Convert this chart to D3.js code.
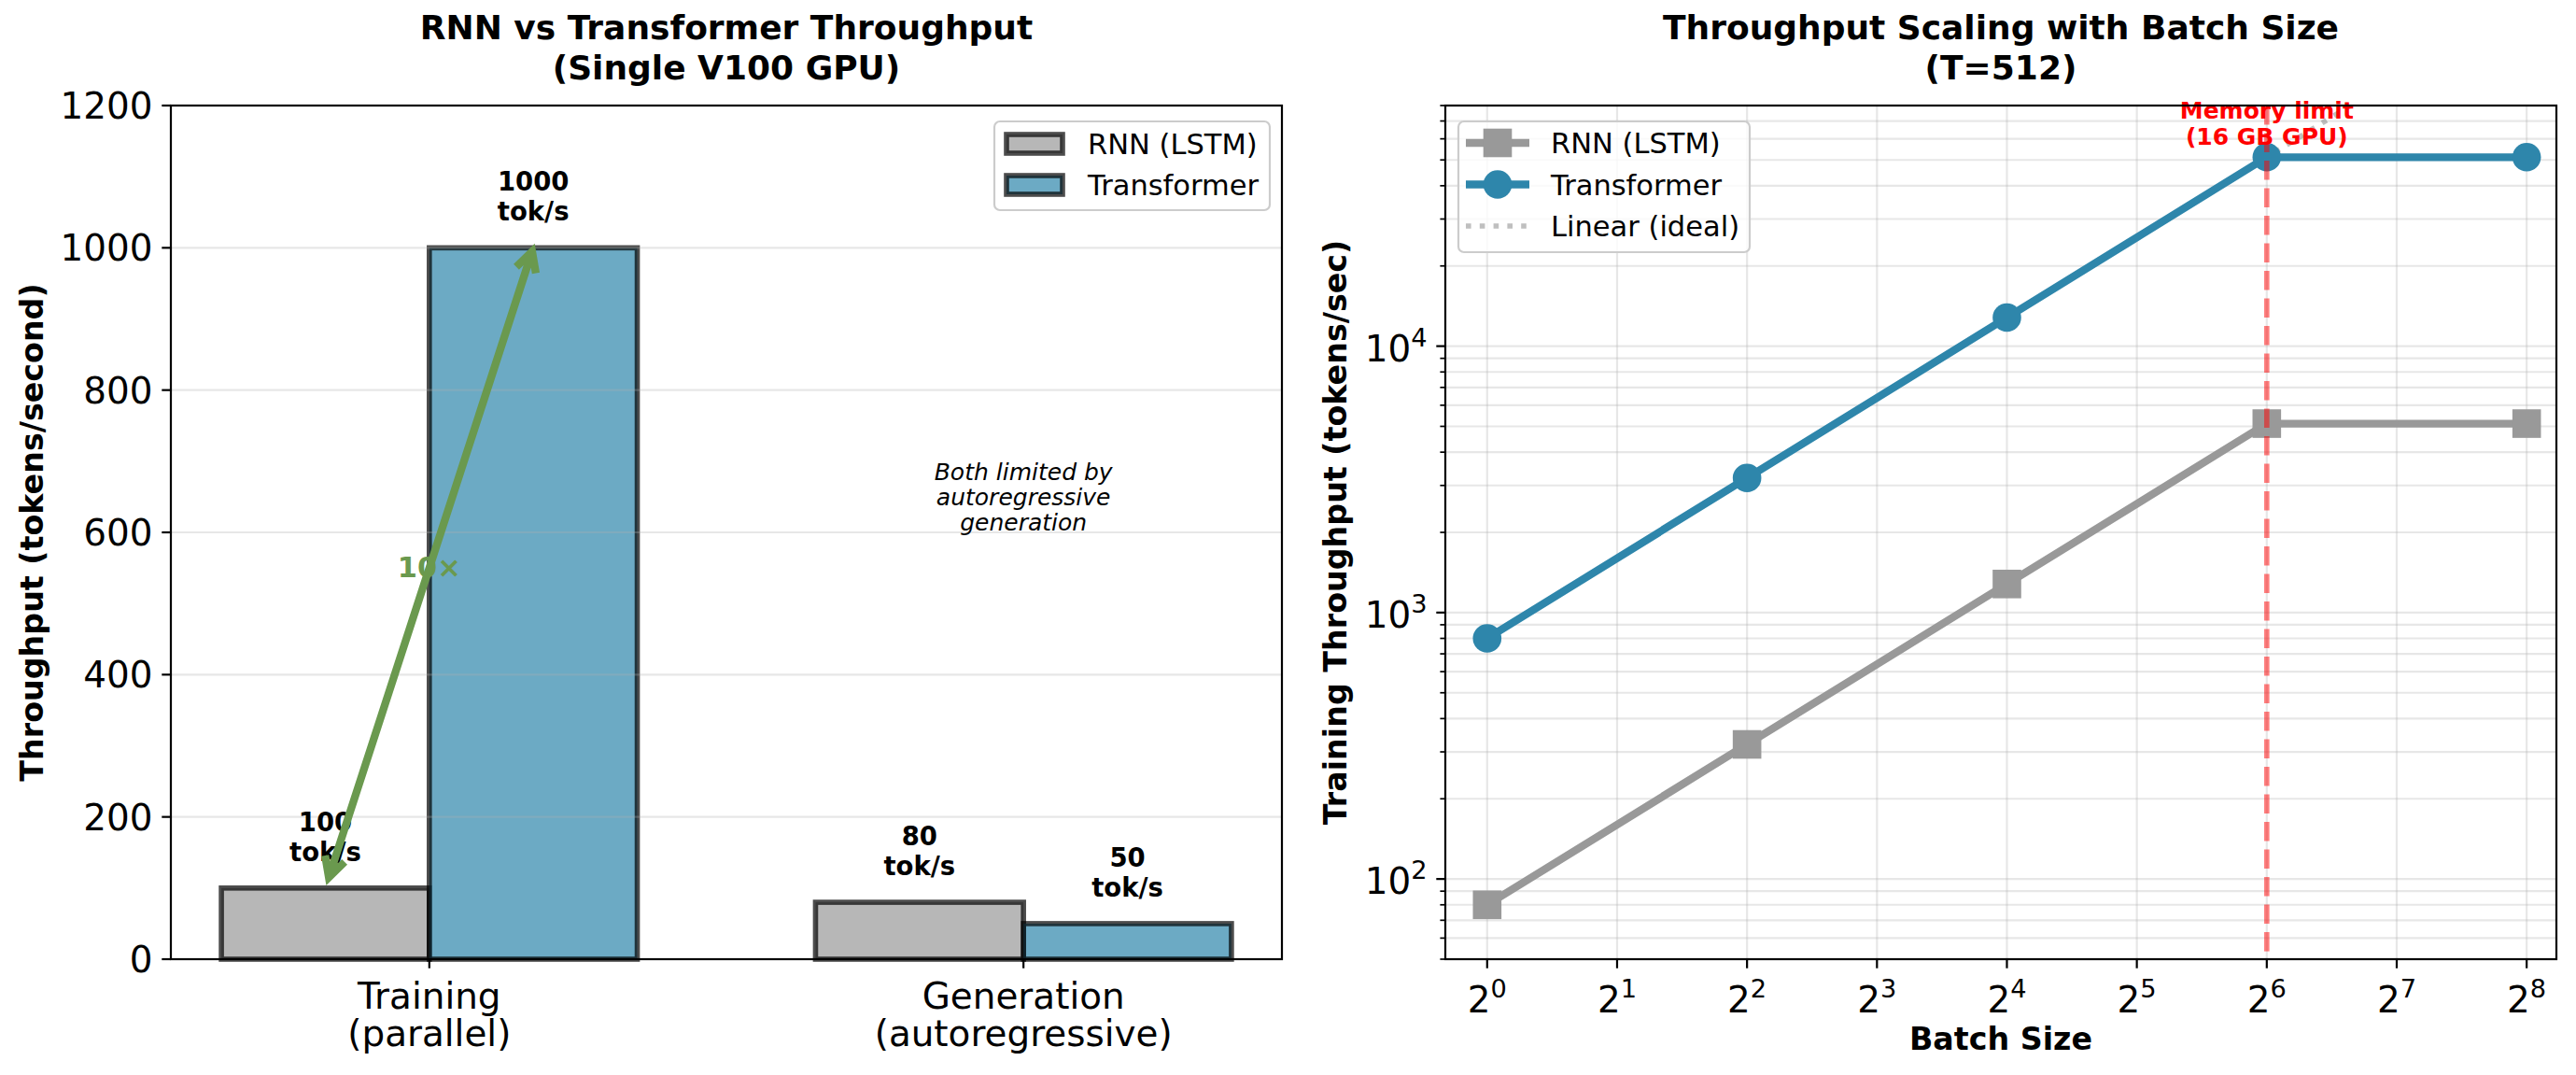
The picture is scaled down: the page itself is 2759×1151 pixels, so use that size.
<!DOCTYPE html>
<html>
<head>
<meta charset="utf-8">
<script src="https://cdn.jsdelivr.net/npm/d3@7"></script>
<style>
  body { margin: 0; background: #fff; }
  text { font-family: "DejaVu Sans", sans-serif; }
</style>
</head>
<body>
<div class="canvas"></div>
<script>
// ---- data ----
const categories = [['Training', '(parallel)'], ['Generation', '(autoregressive)']];
const rnnThroughput = [100, 80];
const transformerThroughput = [1000, 50];
const throughputTicks = [0, 200, 400, 600, 800, 1000, 1200];

const batchSizes = [1, 4, 16, 64, 256];
const rnnScaling = [80, 320, 1280, 5120, 5120];
const transformerScaling = [800, 3200, 12800, 51200, 51200];
const idealScaling = [800, 3200, 12800, 51200, 204800];
const batchTickExps = [0, 1, 2, 3, 4, 5, 6, 7, 8];
const scalingTickExps = [2, 3, 4];
const memoryLimitBatch = 64;

const seriesNames = ['RNN (LSTM)', 'Transformer', 'Linear (ideal)'];

// ---- layout ----
const dims = { width: 2759, height: 1151, top: 113, bottom: 1027 };
const leftAx = { x0: 183, x1: 1373 };
const rightAx = { x0: 1548, x1: 2738 };
const colour = { rnn: '#999999', transformer: '#2E86AB', arrow: '#6A994E', grid: '#b0b0b0' };
const fs = { title: 36, label: 33.3, tick: 38.9, legend: 30.5, value: 27.5, note: 25 };

const svg = d3.select('.canvas').append('svg')
    .attr('width', dims.width)
    .attr('height', dims.height);

const multiText = (g, x, y, lines, size, lh, opts = {}) => {
    const t = g.append('text')
        .attr('x', x).attr('y', y)
        .attr('text-anchor', opts.anchor || 'middle')
        .attr('font-size', size)
        .attr('font-weight', opts.weight || 'normal')
        .attr('font-style', opts.style || 'normal')
        .attr('fill', opts.fill || '#000');
    lines.forEach((l, i) => t.append('tspan').attr('x', x).attr('dy', i === 0 ? 0 : lh).text(l));
    return t;
};

const powerLabel = (g, x, y, base, exp, anchor) => {
    const t = g.append('text')
        .attr('x', x).attr('y', y)
        .attr('text-anchor', anchor)
        .attr('font-size', fs.tick);
    t.append('tspan').text(base);
    t.append('tspan').attr('dy', -16).attr('font-size', fs.tick * 0.7).text(exp);
    return t;
};

// ================= LEFT: bar chart =================
const xL = d3.scaleLinear().domain([-0.435, 1.435]).range([leftAx.x0, leftAx.x1]);
const yL = d3.scaleLinear().domain([0, 1200]).range([dims.bottom, dims.top]);
const barW = 0.35;

const left = svg.append('g');

const barData = [];
categories.forEach((c, i) => {
    barData.push({ x: i - barW, v: rnnThroughput[i], c: colour.rnn });
    barData.push({ x: i, v: transformerThroughput[i], c: colour.transformer });
});

left.selectAll('.bar').data(barData).enter()
    .append('rect')
    .attr('class', 'bar')
    .attr('x', d => xL(d.x))
    .attr('y', d => yL(d.v))
    .attr('width', d => xL(d.x + barW) - xL(d.x))
    .attr('height', d => yL(0) - yL(d.v))
    .attr('fill', d => d.c)
    .attr('fill-opacity', 0.7)
    .attr('stroke', '#000')
    .attr('stroke-opacity', 0.7)
    .attr('stroke-width', 5.6);

// grid (drawn above bars like matplotlib)
left.selectAll('.gridy').data(throughputTicks.slice(1, -1)).enter()
    .append('line')
    .attr('x1', leftAx.x0).attr('x2', leftAx.x1)
    .attr('y1', d => yL(d)).attr('y2', d => yL(d))
    .attr('stroke', colour.grid).attr('stroke-opacity', 0.3).attr('stroke-width', 2.2);

// value labels
barData.forEach(d => {
    multiText(left, xL(d.x + barW / 2), yL(d.v + 30) - 38, [String(d.v), 'tok/s'], fs.value, 32, { weight: 'bold' });
});

// 10x annotation
left.append('text')
    .attr('x', xL(0)).attr('y', yL(550) + 10)
    .attr('text-anchor', 'middle')
    .attr('font-size', 30.5).attr('font-weight', 'bold')
    .attr('fill', colour.arrow)
    .text(`${transformerThroughput[0] / rnnThroughput[0]}×`);

const a1 = [xL(-barW / 2), yL(rnnThroughput[0])];
const a2 = [xL(barW / 2), yL(transformerThroughput[0])];
const shrink = (p, q, s) => {
    const len = Math.hypot(q[0] - p[0], q[1] - p[1]);
    return [p[0] + (q[0] - p[0]) * s / len, p[1] + (q[1] - p[1]) * s / len];
};
const p1 = shrink(a1, a2, 12);
const p2 = shrink(a2, a1, 4);
const arrowHead = (tip, from) => {
    const dx = from[0] - tip[0], dy = from[1] - tip[1];
    const len = Math.hypot(dx, dy), ux = dx / len, uy = dy / len;
    const L = 21, W = 11;
    const bx = tip[0] + ux * L, by = tip[1] + uy * L;
    return `M${bx - uy * W},${by + ux * W}L${tip[0]},${tip[1]}L${bx + uy * W},${by - ux * W}`;
};
left.append('path')
    .attr('d', `M${p1[0]},${p1[1]}L${p2[0]},${p2[1]}` + arrowHead(p1, p2) + arrowHead(p2, p1))
    .attr('fill', 'none')
    .attr('stroke', colour.arrow)
    .attr('stroke-width', 8.3)
    .attr('stroke-linejoin', 'miter');

multiText(left, xL(1), yL(600) - 2 - 2 * 27, ['Both limited by', 'autoregressive', 'generation'], fs.note, 27, { style: 'italic' });

// spines
left.append('rect')
    .attr('x', leftAx.x0).attr('y', dims.top)
    .attr('width', leftAx.x1 - leftAx.x0).attr('height', dims.bottom - dims.top)
    .attr('fill', 'none').attr('stroke', '#000').attr('stroke-width', 2.2);

// y ticks
throughputTicks.forEach(t => {
    left.append('line').attr('x1', leftAx.x0 - 9.7).attr('x2', leftAx.x0)
        .attr('y1', yL(t)).attr('y2', yL(t)).attr('stroke', '#000').attr('stroke-width', 2.2);
    left.append('text').attr('x', leftAx.x0 - 19.4).attr('y', yL(t) + 14)
        .attr('text-anchor', 'end').attr('font-size', fs.tick).text(t);
});
// x ticks
categories.forEach((c, i) => {
    left.append('line').attr('x1', xL(i)).attr('x2', xL(i))
        .attr('y1', dims.bottom).attr('y2', dims.bottom + 9.7).attr('stroke', '#000').attr('stroke-width', 2.2);
    multiText(left, xL(i), 1080, c, fs.tick, 40);
});

left.append('text')
    .attr('transform', `translate(46, ${(dims.top + dims.bottom) / 2}) rotate(-90)`)
    .attr('text-anchor', 'middle').attr('font-size', fs.label).attr('font-weight', 'bold')
    .text('Throughput (tokens/second)');

multiText(left, (leftAx.x0 + leftAx.x1) / 2, 42, ['RNN vs Transformer Throughput', '(Single V100 GPU)'], fs.title, 43, { weight: 'bold' });

// legend
const legL = left.append('g');
legL.append('rect').attr('x', 1065).attr('y', 130).attr('width', 295).attr('height', 95).attr('rx', 6)
    .attr('fill', '#fff').attr('fill-opacity', 0.8).attr('stroke', '#cccccc').attr('stroke-width', 2.2);
[colour.rnn, colour.transformer].forEach((c, i) => {
    const cy = 154 + i * 44;
    legL.append('rect').attr('x', 1078).attr('y', cy - 10).attr('width', 60).attr('height', 20)
        .attr('fill', c).attr('fill-opacity', 0.7).attr('stroke', '#000').attr('stroke-opacity', 0.7).attr('stroke-width', 5.6);
    legL.append('text').attr('x', 1165).attr('y', cy + 11).attr('font-size', fs.legend).text(seriesNames[i]);
});

// ================= RIGHT: scaling =================
const xR = d3.scaleLog().base(2).domain([0.8, 300]).range([rightAx.x0, rightAx.x1]);
const yR = d3.scaleLog().domain([50, 80000]).range([dims.bottom, dims.top]);

const right = svg.append('g');
right.append('clipPath').attr('id', 'clipR').append('rect')
    .attr('x', rightAx.x0).attr('y', dims.top)
    .attr('width', rightAx.x1 - rightAx.x0).attr('height', dims.bottom - dims.top);

const yGrid = yR.ticks();
right.selectAll('.gy').data(yGrid).enter().append('line')
    .attr('x1', rightAx.x0).attr('x2', rightAx.x1)
    .attr('y1', d => yR(d)).attr('y2', d => yR(d))
    .attr('stroke', colour.grid).attr('stroke-opacity', 0.3).attr('stroke-width', 2.2);
right.selectAll('.gx').data(batchTickExps).enter().append('line')
    .attr('x1', d => xR(2 ** d)).attr('x2', d => xR(2 ** d))
    .attr('y1', dims.top).attr('y2', dims.bottom)
    .attr('stroke', colour.grid).attr('stroke-opacity', 0.3).attr('stroke-width', 2.2);

const plot = right.append('g').attr('clip-path', 'url(#clipR)');
const line = d3.line().x(d => xR(d[0])).y(d => yR(d[1]));

plot.append('path')
    .attr('d', line(d3.zip(batchSizes, idealScaling)))
    .attr('fill', 'none').attr('stroke', 'gray').attr('stroke-opacity', 0.5)
    .attr('stroke-width', 5.6).attr('stroke-dasharray', '5.6 9.2');

plot.append('path')
    .attr('d', line(d3.zip(batchSizes, rnnScaling)))
    .attr('fill', 'none').attr('stroke', colour.rnn).attr('stroke-width', 8.3);
plot.selectAll('.sq').data(d3.zip(batchSizes, rnnScaling)).enter().append('rect')
    .attr('x', d => xR(d[0]) - 15.3).attr('y', d => yR(d[1]) - 15.3)
    .attr('width', 30.6).attr('height', 30.6).attr('fill', colour.rnn);

plot.append('path')
    .attr('d', line(d3.zip(batchSizes, transformerScaling)))
    .attr('fill', 'none').attr('stroke', colour.transformer).attr('stroke-width', 8.3);
plot.selectAll('.ci').data(d3.zip(batchSizes, transformerScaling)).enter().append('circle')
    .attr('cx', d => xR(d[0])).attr('cy', d => yR(d[1])).attr('r', 15.3).attr('fill', colour.transformer);

// memory limit
right.append('line')
    .attr('x1', xR(memoryLimitBatch)).attr('x2', xR(memoryLimitBatch))
    .attr('y1', dims.top).attr('y2', dims.bottom)
    .attr('stroke', 'red').attr('stroke-opacity', 0.5).attr('stroke-width', 5.6)
    .attr('stroke-dasharray', '20.6 8.9');
multiText(right, xR(memoryLimitBatch), 127, ['Memory limit', '(16 GB GPU)'], fs.note, 28, { weight: 'bold', fill: 'red' });

// spines
right.append('rect')
    .attr('x', rightAx.x0).attr('y', dims.top)
    .attr('width', rightAx.x1 - rightAx.x0).attr('height', dims.bottom - dims.top)
    .attr('fill', 'none').attr('stroke', '#000').attr('stroke-width', 2.2);

// ticks
batchTickExps.forEach(e => {
    const x = xR(2 ** e);
    right.append('line').attr('x1', x).attr('x2', x).attr('y1', dims.bottom).attr('y2', dims.bottom + 9.7)
        .attr('stroke', '#000').attr('stroke-width', 2.2);
    powerLabel(right, x, 1084, '2', e, 'middle');
});
yGrid.forEach(v => {
    const major = scalingTickExps.some(e => 10 ** e === v);
    right.append('line').attr('x1', rightAx.x0 - (major ? 9.7 : 5.6)).attr('x2', rightAx.x0)
        .attr('y1', yR(v)).attr('y2', yR(v)).attr('stroke', '#000').attr('stroke-width', major ? 2.2 : 1.7);
});
scalingTickExps.forEach(e => {
    powerLabel(right, rightAx.x0 - 19.4, yR(10 ** e) + 16, '10', e, 'end');
});

right.append('text')
    .attr('x', (rightAx.x0 + rightAx.x1) / 2).attr('y', 1124)
    .attr('text-anchor', 'middle').attr('font-size', fs.label).attr('font-weight', 'bold')
    .text('Batch Size');
right.append('text')
    .attr('transform', `translate(1442, ${(dims.top + dims.bottom) / 2}) rotate(-90)`)
    .attr('text-anchor', 'middle').attr('font-size', fs.label).attr('font-weight', 'bold')
    .text('Training Throughput (tokens/sec)');

multiText(right, (rightAx.x0 + rightAx.x1) / 2, 42, ['Throughput Scaling with Batch Size', '(T=512)'], fs.title, 43, { weight: 'bold' });

// legend
const legR = right.append('g');
legR.append('rect').attr('x', 1562).attr('y', 130).attr('width', 312).attr('height', 140).attr('rx', 6)
    .attr('fill', '#fff').attr('fill-opacity', 0.8).attr('stroke', '#cccccc').attr('stroke-width', 2.2);
const legItems = [
    { c: colour.rnn, m: 'square', w: 8.3, o: 1, dash: null },
    { c: colour.transformer, m: 'circle', w: 8.3, o: 1, dash: null },
    { c: 'gray', m: null, w: 5.6, o: 0.5, dash: '5.6 9.2' }
];
legItems.forEach((it, i) => {
    const cy = 153 + i * 44.5;
    legR.append('line').attr('x1', 1570).attr('x2', 1638).attr('y1', cy).attr('y2', cy)
        .attr('stroke', it.c).attr('stroke-opacity', it.o).attr('stroke-width', it.w)
        .attr('stroke-dasharray', it.dash);
    if (it.m === 'square') legR.append('rect').attr('x', 1604 - 15.3).attr('y', cy - 15.3)
        .attr('width', 30.6).attr('height', 30.6).attr('fill', it.c);
    if (it.m === 'circle') legR.append('circle').attr('cx', 1604).attr('cy', cy).attr('r', 15.3).attr('fill', it.c);
    legR.append('text').attr('x', 1661).attr('y', cy + 11).attr('font-size', fs.legend).text(seriesNames[i]);
});
</script>
</body>
</html>
